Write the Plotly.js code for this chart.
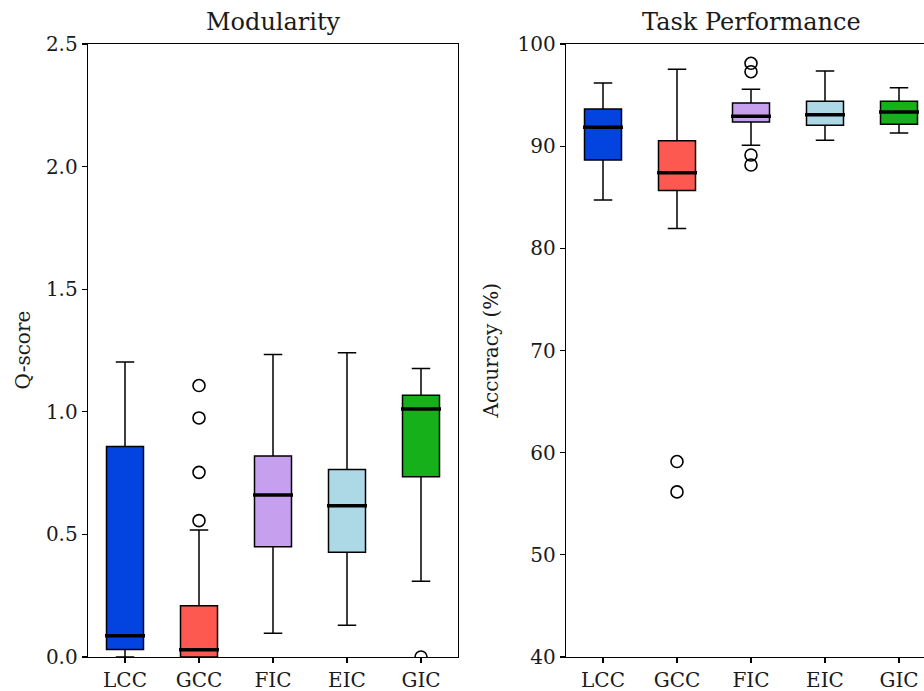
<!DOCTYPE html>
<html>
<head>
<meta charset="utf-8">
<script src="https://cdn.plot.ly/plotly-3.0.1.min.js"></script>
<style>html,body{margin:0;padding:0;background:#fff;}#chart{width:924px;height:691px;}</style>
</head>
<body>
<div id="chart"></div>
<script>
const categories = ["LCC", "GCC", "FIC", "EIC", "GIC"];
const colors = ["#0343df", "#fd5950", "#c79fef", "#add8e6", "#15b01a"];

// Modularity (Q-score) box statistics
const modLower = [0.0, 0.0, 0.097, 0.129, 0.309];
const modQ1 = [0.031, 0.0, 0.450, 0.427, 0.735];
const modMedian = [0.087, 0.030, 0.661, 0.617, 1.011];
const modQ3 = [0.858, 0.209, 0.820, 0.765, 1.067];
const modUpper = [1.203, 0.518, 1.234, 1.241, 1.177];
const modOutliers = [[], [1.107, 0.975, 0.753, 0.556], [], [], [0.0]];

// Task performance (Accuracy %) box statistics
const accLower = [84.74, 81.93, 90.09, 90.58, 91.29];
const accQ1 = [88.65, 85.65, 92.37, 92.04, 92.14];
const accMedian = [91.85, 87.41, 92.92, 93.08, 93.35];
const accQ3 = [93.64, 90.54, 94.23, 94.39, 94.39];
const accUpper = [96.18, 97.52, 95.57, 97.36, 95.73];
const accOutliers = [[], [59.13, 56.16], [98.11, 97.29, 89.14, 88.16], [], []];

const FONT = "DejaVu Serif";
const TXT = "#1a1a1a";
const BOXW = 0.5;
const traces = [];

function addPanel(xa, ya, lower, q1, med, q3, upper, outl) {
  categories.forEach((c, i) => {
    traces.push({
      type: "box", x: [i], q1: [q1[i]], median: [med[i]], q3: [q3[i]],
      lowerfence: [lower[i]], upperfence: [upper[i]],
      width: BOXW, whiskerwidth: 0.5, fillcolor: colors[i],
      line: {color: "#000", width: 1.5}, boxpoints: false,
      xaxis: xa, yaxis: ya, showlegend: false, hoverinfo: "skip"
    });
    traces.push({
      type: "scatter", mode: "lines",
      x: [i - BOXW / 2 - 0.02, i + BOXW / 2 + 0.02], y: [med[i], med[i]],
      line: {color: "#000", width: 3.5},
      xaxis: xa, yaxis: ya, showlegend: false, hoverinfo: "skip"
    });
    if (outl[i].length) {
      traces.push({
        type: "scatter", mode: "markers",
        x: outl[i].map(() => i), y: outl[i],
        marker: {symbol: "circle", size: 12, color: "rgba(0,0,0,0)", line: {color: "#000", width: 1.6}},
        xaxis: xa, yaxis: ya, showlegend: false, hoverinfo: "skip"
      });
    }
  });
}
addPanel("x", "y", modLower, modQ1, modMedian, modQ3, modUpper, modOutliers);
addPanel("x2", "y2", accLower, accQ1, accMedian, accQ3, accUpper, accOutliers);

const W = 924, H = 691;
const tickFont = {family: FONT, size: 20, color: TXT};
const xCommon = {
  tickmode: "array", tickvals: [0, 1, 2, 3, 4], ticktext: categories,
  showgrid: false, zeroline: false, showline: true, linecolor: "#000", linewidth: 1.3,
  ticks: "outside", ticklen: 5, tickwidth: 1.2, tickcolor: "#000", tickfont: tickFont
};
const yCommon = {
  showgrid: false, zeroline: false, showline: true, linecolor: "#000", linewidth: 1.3,
  ticks: "outside", ticklen: 5, tickwidth: 1.2, tickcolor: "#000", tickfont: tickFont
};
const yMid = 1 - ((44 + 657) / 2 - 44) / (657 - 44);

const layout = {
  width: W, height: H,
  margin: {l: 0, r: 0, t: 44, b: 34},
  paper_bgcolor: "#fff", plot_bgcolor: "#fff",
  font: {family: FONT},
  xaxis: Object.assign({}, xCommon, {domain: [88 / W, 458 / W], range: [-0.5, 4.5], anchor: "y", mirror: true}),
  yaxis: Object.assign({}, yCommon, {range: [0, 2.5], tickvals: [0, 0.5, 1.0, 1.5, 2.0, 2.5], tickformat: ".1f", anchor: "x", mirror: true}),
  xaxis2: Object.assign({}, xCommon, {domain: [566 / W, 1], range: [-0.5, 4.5 - 12 / 74], anchor: "y2", mirror: true}),
  yaxis2: Object.assign({}, yCommon, {range: [40, 100], tickvals: [40, 50, 60, 70, 80, 90, 100], anchor: "x2", mirror: false}),
  annotations: [
    {text: "Modularity", xref: "x", yref: "paper", x: 2, y: 1, yshift: 6, yanchor: "bottom", showarrow: false,
     font: {family: FONT, size: 24, color: TXT}},
    {text: "Task Performance", xref: "x2", yref: "paper", x: 2, y: 1, yshift: 6, yanchor: "bottom", showarrow: false,
     font: {family: FONT, size: 24, color: TXT}},
    {text: "Q-score", xref: "paper", yref: "paper", x: 22 / W, y: 0.5, xanchor: "center", yanchor: "middle",
     textangle: -90, showarrow: false, font: {family: FONT, size: 20, color: TXT}},
    {text: "Accuracy (%)", xref: "paper", yref: "paper", x: 490 / W, y: 0.5, xanchor: "center", yanchor: "middle",
     textangle: -90, showarrow: false, font: {family: FONT, size: 20, color: TXT}}
  ]
};

Plotly.newPlot("chart", traces, layout, {displayModeBar: false, staticPlot: true});
</script>
</body>
</html>
